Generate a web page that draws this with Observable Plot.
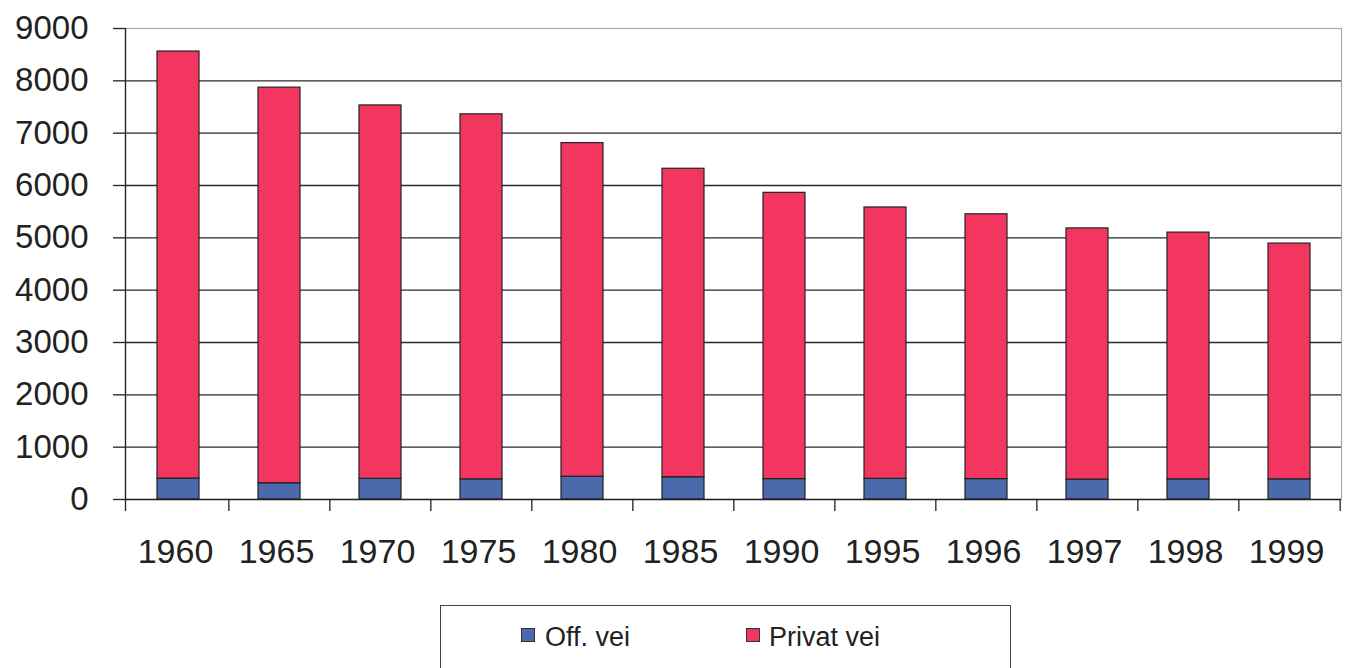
<!DOCTYPE html>
<html>
<head>
<meta charset="utf-8">
<script src="https://cdn.jsdelivr.net/npm/d3@7"></script>
<script src="https://cdn.jsdelivr.net/npm/@observablehq/plot@0.6"></script>
<style>
  html, body { margin: 0; padding: 0; background: #fff; }
  body { width: 1347px; height: 668px; overflow: hidden; position: relative; font-family: "Liberation Sans", Arial, sans-serif; color: #222; }
  #legend { position: absolute; left: 440px; top: 605px; width: 571px; height: 80px; border: 1.5px solid #444; box-sizing: border-box; }
  .sw { position: absolute; width: 14px; height: 14px; border: 1px solid #333; box-sizing: border-box; top: 22px; }
  .lt { position: absolute; top: 18px; font-size: 27px; line-height: 27px; white-space: nowrap; }
</style>
</head>
<body>
<div id="chart"></div>
<div id="legend"></div>
<script>
const years = ["1960", "1965", "1970", "1975", "1980", "1985", "1990", "1995", "1996", "1997", "1998", "1999"];
const seriesNames = ["Off. vei", "Privat vei"];
const offVei = [400, 310, 395, 385, 435, 425, 390, 395, 390, 380, 385, 385];
const privatVei = [8160, 7560, 7135, 6975, 6375, 5895, 5470, 5185, 5060, 4800, 4715, 4505];
const yTicks = [0, 1000, 2000, 3000, 4000, 5000, 6000, 7000, 8000, 9000];
const colors = ["#4a6aab", "#f2365f"];

const data = [];
years.forEach((yr, i) => {
  data.push({year: yr, series: seriesNames[0], value: offVei[i]});
  data.push({year: yr, series: seriesNames[1], value: privatVei[i]});
});

const W = 1347, ML = 125, MR = 6;
const step = (W - ML - MR) / years.length;

const yAxisLine = (index, scales, values, dimensions) => {
  const g = d3.create("svg:g");
  g.append("line")
    .attr("x1", dimensions.marginLeft + 0.5).attr("x2", dimensions.marginLeft + 0.5)
    .attr("y1", scales.y(9000)).attr("y2", scales.y(0) + 12)
    .attr("stroke", "#222").attr("stroke-width", 1.3);
  return g.node();
};

const chart = Plot.plot({
  width: W,
  height: 600,
  marginLeft: ML,
  marginRight: MR,
  marginTop: 28,
  marginBottom: 101,
  style: {fontFamily: "'Liberation Sans', Arial, sans-serif", background: "#fff", color: "#222"},
  x: {domain: years, paddingInner: 0.585, paddingOuter: 0.2925, axis: null, label: null},
  y: {domain: [0, 9000], axis: null, label: null},
  color: {domain: seriesNames, range: colors},
  marks: [
    Plot.frame({stroke: "#a8a8a8", strokeWidth: 1.2}),
    Plot.gridY(yTicks.filter(v => v > 0 && v < 9000), {stroke: "#2a2a2a", strokeOpacity: 1, strokeWidth: 1.3}),
    Plot.barY(data, {x: "year", y: "value", fill: "series", stroke: "#222", strokeWidth: 1.2}),
    Plot.ruleY([0], {stroke: "#222", strokeWidth: 1.3}),
    yAxisLine,
    Plot.axisY(yTicks, {label: null, tickSize: 12, tickPadding: 25, fontSize: 33, tickFormat: d => String(d), stroke: "#222", strokeWidth: 1.3}),
    Plot.axisX(years, {label: null, tickSize: 0, tickPadding: 39, fontSize: 34, dx: -3}),
    Plot.axisX(years.slice(1), {label: null, tickSize: 12, dx: -step / 2, tickFormat: () => null, stroke: "#222", strokeWidth: 1.3}),
    Plot.axisX([years[years.length - 1]], {label: null, tickSize: 12, dx: step / 2, tickFormat: () => null, stroke: "#222", strokeWidth: 1.3})
  ]
});
document.getElementById("chart").appendChild(chart);

const legend = document.getElementById("legend");
const pos = [{sw: 80, tx: 104}, {sw: 305, tx: 328}];
seriesNames.forEach((name, i) => {
  const s = document.createElement("div");
  s.className = "sw";
  s.style.left = pos[i].sw + "px";
  s.style.background = colors[i];
  legend.appendChild(s);
  const t = document.createElement("div");
  t.className = "lt";
  t.style.left = pos[i].tx + "px";
  t.textContent = name;
  legend.appendChild(t);
});
</script>
</body>
</html>
